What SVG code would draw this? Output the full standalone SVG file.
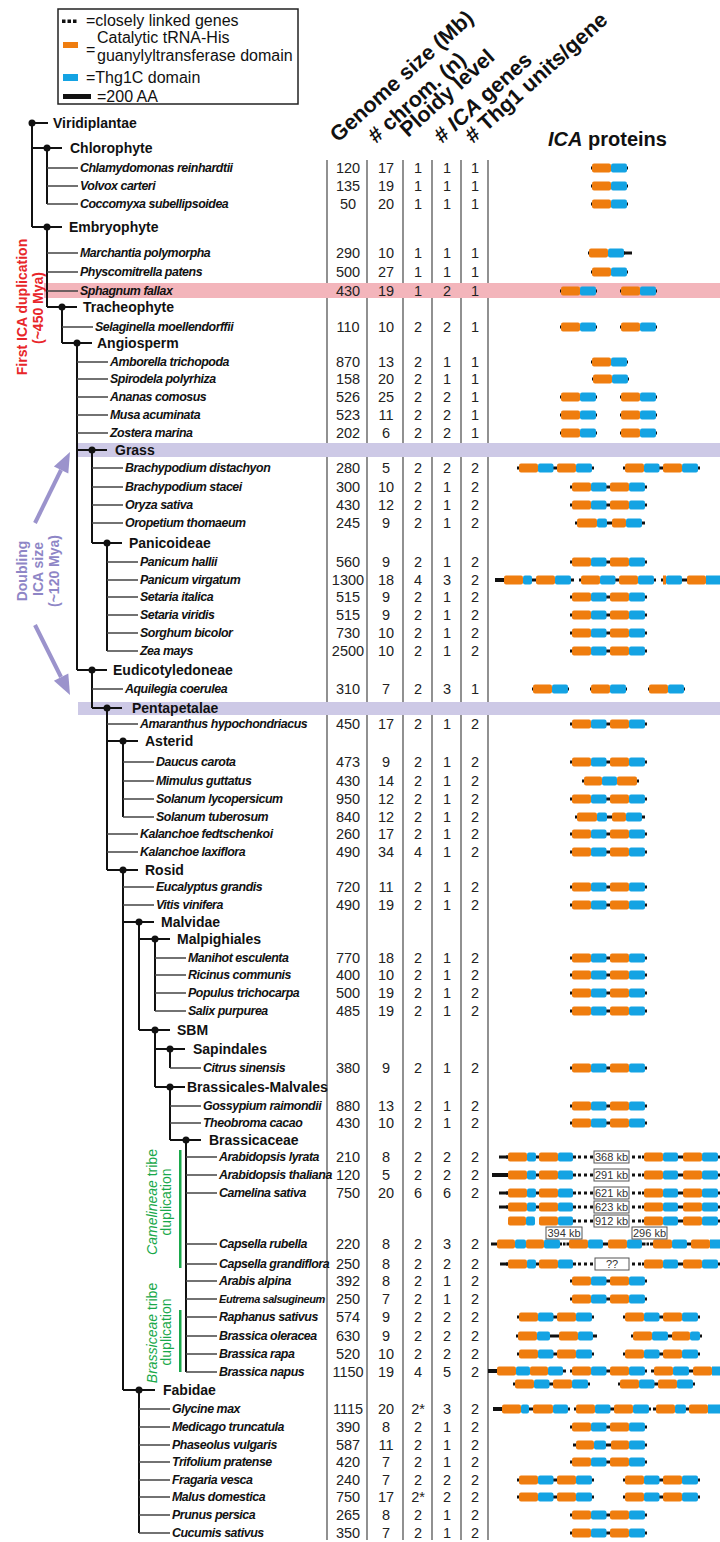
<svg xmlns="http://www.w3.org/2000/svg" width="720" height="1542" viewBox="0 0 720 1542">
<style>
.cl{font-family:'Liberation Sans',Arial,sans-serif;font-weight:bold;font-size:14px;fill:#111}
.sp{font-family:'Liberation Sans',Arial,sans-serif;font-weight:bold;font-style:italic;font-size:12.4px;letter-spacing:-0.45px;fill:#111}
.n{font-family:'Liberation Sans',Arial,sans-serif;font-size:14.5px;fill:#222;text-anchor:middle}
.hd{font-family:'Liberation Sans',Arial,sans-serif;font-weight:bold;font-size:21.5px;fill:#111}
.hp{font-family:'Liberation Sans',Arial,sans-serif;font-weight:bold;font-size:20px;fill:#111}
.lg{font-family:'Liberation Sans',Arial,sans-serif;font-size:16px;fill:#111}
.tr{stroke:#111;stroke-width:2;fill:none}
.lf{stroke:#444;stroke-width:1.3;fill:none}
.sep{stroke:#555;stroke-width:1.3}
.o{fill:#EF7D0F}
.b{fill:#14A3E3}
.k{fill:#111}
.box{fill:#fff;stroke:#555;stroke-width:1}
.kb{font-family:'Liberation Sans',Arial,sans-serif;font-size:11px;fill:#333;text-anchor:middle}
.side{font-family:'Liberation Sans',Arial,sans-serif;font-weight:bold;font-size:14px;text-anchor:middle}
.grn{font-family:'Liberation Sans',Arial,sans-serif;font-size:14px;fill:#19a84a;text-anchor:middle}
</style>
<defs>
<g id="g1"><rect class="k" x="0" y="-1.5" width="37" height="3"/><rect class="o" x="1" y="-4.5" width="19" height="9" rx="2"/><rect class="b" x="20" y="-4.5" width="16" height="9" rx="2"/></g>
<g id="g2"><rect class="k" x="0" y="-1.5" width="77" height="3"/><rect class="o" x="2" y="-4.5" width="19" height="9" rx="2"/><rect class="b" x="21" y="-4.5" width="15.5" height="9" rx="2"/><rect class="o" x="40" y="-4.5" width="19" height="9" rx="2"/><rect class="b" x="59" y="-4.5" width="16" height="9" rx="2"/></g>
<g id="arL"><rect class="k" x="506" y="-1.5" width="70" height="3"/><rect class="o" x="508" y="-4.5" width="19" height="9" rx="2"/><rect class="b" x="527" y="-4.5" width="9" height="9" rx="2"/><rect class="o" x="539" y="-4.5" width="19" height="9" rx="2"/><rect class="b" x="558" y="-4.5" width="15" height="9" rx="2"/></g>
<g id="arR"><rect class="k" x="578" y="-1.5" width="3" height="3"/><rect class="k" x="584" y="-1.5" width="3" height="3"/><rect class="k" x="590" y="-1.5" width="3" height="3"/><rect class="k" x="632" y="-1.5" width="3" height="3"/><rect class="k" x="638" y="-1.5" width="3" height="3"/><rect class="k" x="642" y="-1.5" width="78" height="3"/><rect class="o" x="644" y="-4.5" width="19" height="9" rx="2"/><rect class="b" x="663" y="-4.5" width="15" height="9" rx="2"/><rect class="o" x="683" y="-4.5" width="19" height="9" rx="2"/><rect class="b" x="702" y="-4.5" width="16" height="9" rx="2"/></g>
</defs>

<g id="legend">
<rect x="58" y="9" width="240" height="95" fill="#fff" stroke="#222" stroke-width="1.5"/>
<rect class="k" x="62" y="19.5" width="3.5" height="3.5"/><rect class="k" x="67.5" y="19.5" width="3.5" height="3.5"/><rect class="k" x="73" y="19.5" width="3.5" height="3.5"/>
<text class="lg" x="86" y="26">=closely linked genes</text>
<rect class="o" x="63" y="42" width="15" height="6"/>
<text class="lg" x="86" y="55">=</text>
<text class="lg" x="97" y="43">Catalytic tRNA-His</text>
<text class="lg" x="97" y="61">guanylyltransferase domain</text>
<rect class="b" x="63" y="74" width="15" height="7"/>
<text class="lg" x="86" y="83">=Thg1C domain</text>
<rect class="k" x="63" y="94" width="28" height="5"/>
<text class="lg" x="97" y="102">=200 AA</text>
</g>

<g id="headers">
<text class="hd" transform="translate(338,143) rotate(-42)">Genome size (Mb)</text>
<text class="hd" transform="translate(376,144) rotate(-42)"># chrom. (n)</text>
<text class="hd" transform="translate(408,138) rotate(-42)">Ploidy level</text>
<text class="hd" transform="translate(442,144) rotate(-42)"># <tspan font-style="italic">ICA</tspan> genes</text>
<text class="hd" transform="translate(473,144) rotate(-42)"># Thg1 units/gene</text>
<text class="hp" x="548" y="146"><tspan font-style="italic">ICA</tspan> proteins</text>
</g>

<g id="separators">
<line class="sep" x1="327" y1="160" x2="327" y2="1540"/>
<line class="sep" x1="367" y1="160" x2="367" y2="1540"/>
<line class="sep" x1="403" y1="160" x2="403" y2="1540"/>
<line class="sep" x1="432" y1="160" x2="432" y2="1540"/>
<line class="sep" x1="461" y1="160" x2="461" y2="1540"/>
<line class="sep" x1="488" y1="160" x2="488" y2="1540"/>
</g>

<g id="bands">
<rect x="44" y="283" width="676" height="15" fill="#f3b5bb"/>
<rect x="78" y="443" width="642" height="14" fill="#cdc9e6"/>
<rect x="78" y="702" width="642" height="13" fill="#cdc9e6"/>
</g>

<g id="annotations">
<text class="side" fill="#e8262a" transform="translate(27,307) rotate(-90)">First ICA duplication</text>
<text class="side" fill="#e8262a" transform="translate(43,308) rotate(-90)">(~450 Mya)</text>
<text class="side" fill="#8e86c6" transform="translate(27,571) rotate(-90)">Doubling</text>
<text class="side" fill="#8e86c6" transform="translate(43,569) rotate(-90)">ICA size</text>
<text class="side" fill="#8e86c6" transform="translate(59,571) rotate(-90)">(~120 Mya)</text>
<line x1="35" y1="523" x2="61" y2="470" stroke="#9b93cc" stroke-width="4"/>
<polygon points="70,452 68.3,473.4 53.9,466.4" fill="#9b93cc"/>
<line x1="35" y1="625" x2="61" y2="677" stroke="#9b93cc" stroke-width="4"/>
<polygon points="70,695 68.3,673.5 53.9,680.7" fill="#9b93cc"/>
<text class="grn" transform="translate(157,1202) rotate(-90)"><tspan font-style="italic">Camelineae</tspan> tribe</text>
<text class="grn" transform="translate(171,1202) rotate(-90)">duplication</text>
<rect x="179" y="1150" width="2.5" height="118" fill="#19a84a"/>
<text class="grn" transform="translate(157,1333) rotate(-90)"><tspan font-style="italic">Brassiceae</tspan> tribe</text>
<text class="grn" transform="translate(171,1332) rotate(-90)">duplication</text>
<rect x="179" y="1310" width="2.5" height="62" fill="#19a84a"/>
</g>

<g id="connectors">
<path class="tr" d="M32 123V227M32 123H48M32 148H62M47 148V204M32 227H62M47 227V307M47 307H77M62 307V343M62 343H92M77 343V670M77 450H107M92 450V543M92 543H122M107 543V651M77 670H107M92 670V708M92 708H122M107 708V870M107 741H138M123 741V817M107 870H138M123 870V1390M123 922H154M139 922V1030M139 939H170M155 939V1011M139 1030H170M155 1030V1087M155 1049H185M170 1049V1068M155 1087H185M170 1087V1140M170 1140H201M186 1140V1372M123 1390H155M139 1390V1533"/>
<path class="lf" d="M47 168h31M47 186h31M47 204h31M47 253h31M47 272h31M47 291h31M62 327h31M77 362h31M77 379h31M77 397h31M77 415h31M77 433h31M92 468h31M92 487h31M92 505h31M92 523h31M107 562h31M107 580h31M107 597h31M107 615h31M107 633h31M107 651h31M92 689h31M107 724h31M123 762h31M123 781h31M123 799h31M123 817h31M107 834h31M107 852h31M123 887h31M123 905h31M155 958h31M155 975h31M155 993h31M155 1011h31M170 1068h31M170 1106h31M170 1123h31M186 1157h31M186 1175h31M186 1193h31M186 1244h31M186 1264h31M186 1281h31M186 1299h31M186 1317h31M186 1336h31M186 1354h31M186 1372h31M139 1409h31M139 1427h31M139 1445h31M139 1462h31M139 1480h31M139 1497h31M139 1515h31M139 1533h31"/>
<g fill="#111">
<circle cx="32" cy="123" r="3.5"/><circle cx="47" cy="148" r="3.5"/><circle cx="47" cy="227" r="3.5"/><circle cx="62" cy="307" r="3.5"/><circle cx="77" cy="343" r="3.5"/><circle cx="92" cy="450" r="3.5"/><circle cx="107" cy="543" r="3.5"/><circle cx="92" cy="670" r="3.5"/><circle cx="107" cy="708" r="3.5"/><circle cx="123" cy="741" r="3.5"/><circle cx="123" cy="870" r="3.5"/><circle cx="139" cy="922" r="3.5"/><circle cx="155" cy="939" r="3.5"/><circle cx="155" cy="1030" r="3.5"/><circle cx="170" cy="1049" r="3.5"/><circle cx="170" cy="1087" r="3.5"/><circle cx="186" cy="1140" r="3.5"/><circle cx="139" cy="1390" r="3.5"/>
</g>
</g>

<g id="clades">
<text id="n-viridiplantae" class="cl" x="53" y="128">Viridiplantae</text>
<text id="n-chlorophyte" class="cl" x="70" y="153">Chlorophyte</text>
<text id="n-embryophyte" class="cl" x="69" y="232">Embryophyte</text>
<text id="n-tracheophyte" class="cl" x="83" y="312">Tracheophyte</text>
<text id="n-angiosperm" class="cl" x="97" y="348">Angiosperm</text>
<text id="n-grass" class="cl" x="115" y="455">Grass</text>
<text id="n-panicoideae" class="cl" x="129" y="548">Panicoideae</text>
<text id="n-eudicotyledoneae" class="cl" x="113" y="675">Eudicotyledoneae</text>
<text id="n-pentapetalae" class="cl" x="132" y="713">Pentapetalae</text>
<text id="n-asterid" class="cl" x="145" y="746">Asterid</text>
<text id="n-rosid" class="cl" x="145" y="875">Rosid</text>
<text id="n-malvidae" class="cl" x="161" y="927">Malvidae</text>
<text id="n-malpighiales" class="cl" x="177" y="944">Malpighiales</text>
<text id="n-sbm" class="cl" x="177" y="1035">SBM</text>
<text id="n-sapindales" class="cl" x="193" y="1054">Sapindales</text>
<text id="n-brassicales" class="cl" x="187" y="1092">Brassicales-Malvales</text>
<text id="n-brassicaceae" class="cl" x="209" y="1145">Brassicaceae</text>
<text id="n-fabidae" class="cl" x="163" y="1395">Fabidae</text>
</g>

<g id="r-chlamydomonas" transform="translate(0,168)"><text class="sp" x="80" y="4">Chlamydomonas reinhardtii</text><text class="n" y="5"><tspan x="348">120</tspan><tspan x="386">17</tspan><tspan x="418">1</tspan><tspan x="447">1</tspan><tspan x="475">1</tspan></text><use href="#g1" x="591"/></g>
<g id="r-volvox" transform="translate(0,186)"><text class="sp" x="80" y="4">Volvox carteri</text><text class="n" y="5"><tspan x="348">135</tspan><tspan x="386">19</tspan><tspan x="418">1</tspan><tspan x="447">1</tspan><tspan x="475">1</tspan></text><use href="#g1" x="591"/></g>
<g id="r-coccomyxa" transform="translate(0,204)"><text class="sp" x="80" y="4">Coccomyxa subellipsoidea</text><text class="n" y="5"><tspan x="348">50</tspan><tspan x="386">20</tspan><tspan x="418">1</tspan><tspan x="447">1</tspan><tspan x="475">1</tspan></text><use href="#g1" x="591"/></g>
<g id="r-marchantia" transform="translate(0,253)"><text class="sp" x="80" y="4">Marchantia polymorpha</text><text class="n" y="5"><tspan x="348">290</tspan><tspan x="386">10</tspan><tspan x="418">1</tspan><tspan x="447">1</tspan><tspan x="475">1</tspan></text><use href="#g1" x="588"/><rect class="k" x="624" y="-1.5" width="8" height="3"/></g>
<g id="r-physcomitrella" transform="translate(0,272)"><text class="sp" x="80" y="4">Physcomitrella patens</text><text class="n" y="5"><tspan x="348">500</tspan><tspan x="386">27</tspan><tspan x="418">1</tspan><tspan x="447">1</tspan><tspan x="475">1</tspan></text><use href="#g1" x="591"/></g>
<g id="r-sphagnum" transform="translate(0,291)"><text class="sp" x="80" y="4">Sphagnum fallax</text><text class="n" y="5"><tspan x="348">430</tspan><tspan x="386">19</tspan><tspan x="418">1</tspan><tspan x="447">2</tspan><tspan x="475">1</tspan></text><use href="#g1" x="560"/><use href="#g1" x="620"/></g>
<g id="r-selaginella" transform="translate(0,327)"><text class="sp" x="95" y="4">Selaginella moellendorffii</text><text class="n" y="5"><tspan x="348">110</tspan><tspan x="386">10</tspan><tspan x="418">2</tspan><tspan x="447">2</tspan><tspan x="475">1</tspan></text><use href="#g1" x="560"/><use href="#g1" x="620"/></g>
<g id="r-amborella" transform="translate(0,362)"><text class="sp" x="110" y="4">Amborella trichopoda</text><text class="n" y="5"><tspan x="348">870</tspan><tspan x="386">13</tspan><tspan x="418">2</tspan><tspan x="447">1</tspan><tspan x="475">1</tspan></text><use href="#g1" x="591"/></g>
<g id="r-spirodela" transform="translate(0,379)"><text class="sp" x="110" y="4">Spirodela polyrhiza</text><text class="n" y="5"><tspan x="348">158</tspan><tspan x="386">20</tspan><tspan x="418">2</tspan><tspan x="447">1</tspan><tspan x="475">1</tspan></text><use href="#g1" x="592"/></g>
<g id="r-ananas" transform="translate(0,397)"><text class="sp" x="110" y="4">Ananas comosus</text><text class="n" y="5"><tspan x="348">526</tspan><tspan x="386">25</tspan><tspan x="418">2</tspan><tspan x="447">2</tspan><tspan x="475">1</tspan></text><use href="#g1" x="560"/><use href="#g1" x="620"/></g>
<g id="r-musa" transform="translate(0,415)"><text class="sp" x="110" y="4">Musa acuminata</text><text class="n" y="5"><tspan x="348">523</tspan><tspan x="386">11</tspan><tspan x="418">2</tspan><tspan x="447">2</tspan><tspan x="475">1</tspan></text><use href="#g1" x="560"/><use href="#g1" x="620"/></g>
<g id="r-zostera" transform="translate(0,433)"><text class="sp" x="110" y="4">Zostera marina</text><text class="n" y="5"><tspan x="348">202</tspan><tspan x="386">6</tspan><tspan x="418">2</tspan><tspan x="447">2</tspan><tspan x="475">1</tspan></text><use href="#g1" x="560"/><use href="#g1" x="620"/></g>
<g id="r-bdistachyon" transform="translate(0,468)"><text class="sp" x="125" y="4">Brachypodium distachyon</text><text class="n" y="5"><tspan x="348">280</tspan><tspan x="386">5</tspan><tspan x="418">2</tspan><tspan x="447">2</tspan><tspan x="475">2</tspan></text><use href="#g2" x="517"/><use href="#g2" x="623"/></g>
<g id="r-bstacei" transform="translate(0,487)"><text class="sp" x="125" y="4">Brachypodium stacei</text><text class="n" y="5"><tspan x="348">300</tspan><tspan x="386">10</tspan><tspan x="418">2</tspan><tspan x="447">1</tspan><tspan x="475">2</tspan></text><use href="#g2" x="570"/></g>
<g id="r-oryza" transform="translate(0,505)"><text class="sp" x="125" y="4">Oryza sativa</text><text class="n" y="5"><tspan x="348">430</tspan><tspan x="386">12</tspan><tspan x="418">2</tspan><tspan x="447">1</tspan><tspan x="475">2</tspan></text><use href="#g2" x="570"/></g>
<g id="r-oropetium" transform="translate(0,523)"><text class="sp" x="125" y="4">Oropetium thomaeum</text><text class="n" y="5"><tspan x="348">245</tspan><tspan x="386">9</tspan><tspan x="418">2</tspan><tspan x="447">1</tspan><tspan x="475">2</tspan></text><rect class="k" x="575" y="-1.5" width="70" height="3"/><rect class="o" x="577" y="-4.5" width="20" height="9" rx="2"/><rect class="b" x="597" y="-4.5" width="10" height="9" rx="2"/><rect class="o" x="612" y="-4.5" width="14" height="9" rx="2"/><rect class="b" x="626" y="-4.5" width="16" height="9" rx="2"/></g>
<g id="r-phallii" transform="translate(0,562)"><text class="sp" x="140" y="4">Panicum hallii</text><text class="n" y="5"><tspan x="348">560</tspan><tspan x="386">9</tspan><tspan x="418">2</tspan><tspan x="447">1</tspan><tspan x="475">2</tspan></text><use href="#g2" x="570"/></g>
<g id="r-pvirgatum" transform="translate(0,580)"><text class="sp" x="140" y="4">Panicum virgatum</text><text class="n" y="5"><tspan x="348">1300</tspan><tspan x="386">18</tspan><tspan x="418">4</tspan><tspan x="447">3</tspan><tspan x="475">2</tspan></text><rect class="k" x="495" y="-1.5" width="79" height="3"/><rect class="k" x="495" y="-2" width="9" height="4"/><rect class="o" x="504" y="-4.5" width="19" height="9" rx="2"/><rect class="b" x="523" y="-4.5" width="9" height="9" rx="2"/><rect class="o" x="536" y="-4.5" width="19" height="9" rx="2"/><rect class="b" x="555" y="-4.5" width="16" height="9" rx="2"/><use href="#g2" x="579"/><rect class="k" x="661" y="-1.5" width="59" height="3"/><rect class="o" x="663" y="-4.5" width="3" height="9"/><rect class="b" x="666" y="-4.5" width="16" height="9" rx="2"/><rect class="o" x="687" y="-4.5" width="19" height="9" rx="2"/><rect class="b" x="706" y="-4.5" width="14" height="9"/></g>
<g id="r-sitalica" transform="translate(0,597)"><text class="sp" x="140" y="4">Setaria italica</text><text class="n" y="5"><tspan x="348">515</tspan><tspan x="386">9</tspan><tspan x="418">2</tspan><tspan x="447">1</tspan><tspan x="475">2</tspan></text><use href="#g2" x="570"/></g>
<g id="r-sviridis" transform="translate(0,615)"><text class="sp" x="140" y="4">Setaria viridis</text><text class="n" y="5"><tspan x="348">515</tspan><tspan x="386">9</tspan><tspan x="418">2</tspan><tspan x="447">1</tspan><tspan x="475">2</tspan></text><use href="#g2" x="570"/></g>
<g id="r-sorghum" transform="translate(0,633)"><text class="sp" x="140" y="4">Sorghum bicolor</text><text class="n" y="5"><tspan x="348">730</tspan><tspan x="386">10</tspan><tspan x="418">2</tspan><tspan x="447">1</tspan><tspan x="475">2</tspan></text><use href="#g2" x="570"/></g>
<g id="r-zea" transform="translate(0,651)"><text class="sp" x="140" y="4">Zea mays</text><text class="n" y="5"><tspan x="348">2500</tspan><tspan x="386">10</tspan><tspan x="418">2</tspan><tspan x="447">1</tspan><tspan x="475">2</tspan></text><use href="#g2" x="570"/></g>
<g id="r-aquilegia" transform="translate(0,689)"><text class="sp" x="125" y="4">Aquilegia coerulea</text><text class="n" y="5"><tspan x="348">310</tspan><tspan x="386">7</tspan><tspan x="418">2</tspan><tspan x="447">3</tspan><tspan x="475">1</tspan></text><use href="#g1" x="532"/><use href="#g1" x="590"/><use href="#g1" x="648"/></g>
<g id="r-amaranthus" transform="translate(0,724)"><text class="sp" x="140" y="4">Amaranthus hypochondriacus</text><text class="n" y="5"><tspan x="348">450</tspan><tspan x="386">17</tspan><tspan x="418">2</tspan><tspan x="447">1</tspan><tspan x="475">2</tspan></text><use href="#g2" x="570"/></g>
<g id="r-daucus" transform="translate(0,762)"><text class="sp" x="156" y="4">Daucus carota</text><text class="n" y="5"><tspan x="348">473</tspan><tspan x="386">9</tspan><tspan x="418">2</tspan><tspan x="447">1</tspan><tspan x="475">2</tspan></text><use href="#g2" x="570"/></g>
<g id="r-mimulus" transform="translate(0,781)"><text class="sp" x="156" y="4">Mimulus guttatus</text><text class="n" y="5"><tspan x="348">430</tspan><tspan x="386">14</tspan><tspan x="418">2</tspan><tspan x="447">1</tspan><tspan x="475">2</tspan></text><rect class="k" x="582" y="-1.5" width="57" height="3"/><rect class="o" x="584" y="-4.5" width="18" height="9" rx="2"/><rect class="b" x="602" y="-4.5" width="15" height="9" rx="2"/><rect class="o" x="617" y="-4.5" width="20" height="9" rx="2"/></g>
<g id="r-slycopersicum" transform="translate(0,799)"><text class="sp" x="156" y="4">Solanum lycopersicum</text><text class="n" y="5"><tspan x="348">950</tspan><tspan x="386">12</tspan><tspan x="418">2</tspan><tspan x="447">1</tspan><tspan x="475">2</tspan></text><use href="#g2" x="570"/></g>
<g id="r-stuberosum" transform="translate(0,817)"><text class="sp" x="156" y="4">Solanum tuberosum</text><text class="n" y="5"><tspan x="348">840</tspan><tspan x="386">12</tspan><tspan x="418">2</tspan><tspan x="447">1</tspan><tspan x="475">2</tspan></text><rect class="k" x="575" y="-1.5" width="70" height="3"/><rect class="o" x="577" y="-4.5" width="20" height="9" rx="2"/><rect class="b" x="597" y="-4.5" width="10" height="9" rx="2"/><rect class="o" x="612" y="-4.5" width="14" height="9" rx="2"/><rect class="b" x="626" y="-4.5" width="16" height="9" rx="2"/></g>
<g id="r-kfedtschenkoi" transform="translate(0,834)"><text class="sp" x="140" y="4">Kalanchoe fedtschenkoi</text><text class="n" y="5"><tspan x="348">260</tspan><tspan x="386">17</tspan><tspan x="418">2</tspan><tspan x="447">1</tspan><tspan x="475">2</tspan></text><use href="#g2" x="570"/></g>
<g id="r-klaxiflora" transform="translate(0,852)"><text class="sp" x="140" y="4">Kalanchoe laxiflora</text><text class="n" y="5"><tspan x="348">490</tspan><tspan x="386">34</tspan><tspan x="418">4</tspan><tspan x="447">1</tspan><tspan x="475">2</tspan></text><use href="#g2" x="570"/></g>
<g id="r-eucalyptus" transform="translate(0,887)"><text class="sp" x="156" y="4">Eucalyptus grandis</text><text class="n" y="5"><tspan x="348">720</tspan><tspan x="386">11</tspan><tspan x="418">2</tspan><tspan x="447">1</tspan><tspan x="475">2</tspan></text><use href="#g2" x="570"/></g>
<g id="r-vitis" transform="translate(0,905)"><text class="sp" x="156" y="4">Vitis vinifera</text><text class="n" y="5"><tspan x="348">490</tspan><tspan x="386">19</tspan><tspan x="418">2</tspan><tspan x="447">1</tspan><tspan x="475">2</tspan></text><use href="#g2" x="570"/></g>
<g id="r-manihot" transform="translate(0,958)"><text class="sp" x="188" y="4">Manihot esculenta</text><text class="n" y="5"><tspan x="348">770</tspan><tspan x="386">18</tspan><tspan x="418">2</tspan><tspan x="447">1</tspan><tspan x="475">2</tspan></text><use href="#g2" x="570"/></g>
<g id="r-ricinus" transform="translate(0,975)"><text class="sp" x="188" y="4">Ricinus communis</text><text class="n" y="5"><tspan x="348">400</tspan><tspan x="386">10</tspan><tspan x="418">2</tspan><tspan x="447">1</tspan><tspan x="475">2</tspan></text><use href="#g2" x="570"/></g>
<g id="r-populus" transform="translate(0,993)"><text class="sp" x="188" y="4">Populus trichocarpa</text><text class="n" y="5"><tspan x="348">500</tspan><tspan x="386">19</tspan><tspan x="418">2</tspan><tspan x="447">1</tspan><tspan x="475">2</tspan></text><use href="#g2" x="570"/></g>
<g id="r-salix" transform="translate(0,1011)"><text class="sp" x="188" y="4">Salix purpurea</text><text class="n" y="5"><tspan x="348">485</tspan><tspan x="386">19</tspan><tspan x="418">2</tspan><tspan x="447">1</tspan><tspan x="475">2</tspan></text><use href="#g2" x="570"/></g>
<g id="r-citrus" transform="translate(0,1068)"><text class="sp" x="203" y="4">Citrus sinensis</text><text class="n" y="5"><tspan x="348">380</tspan><tspan x="386">9</tspan><tspan x="418">2</tspan><tspan x="447">1</tspan><tspan x="475">2</tspan></text><use href="#g2" x="570"/></g>
<g id="r-gossypium" transform="translate(0,1106)"><text class="sp" x="203" y="4">Gossypium raimondii</text><text class="n" y="5"><tspan x="348">880</tspan><tspan x="386">13</tspan><tspan x="418">2</tspan><tspan x="447">1</tspan><tspan x="475">2</tspan></text><use href="#g2" x="570"/></g>
<g id="r-theobroma" transform="translate(0,1123)"><text class="sp" x="203" y="4">Theobroma cacao</text><text class="n" y="5"><tspan x="348">430</tspan><tspan x="386">10</tspan><tspan x="418">2</tspan><tspan x="447">1</tspan><tspan x="475">2</tspan></text><use href="#g2" x="570"/></g>
<g id="r-alyrata" transform="translate(0,1157)"><text class="sp" x="219" y="4">Arabidopsis lyrata</text><text class="n" y="5"><tspan x="348">210</tspan><tspan x="386">8</tspan><tspan x="418">2</tspan><tspan x="447">2</tspan><tspan x="475">2</tspan></text><rect class="k" x="499" y="-1.5" width="9" height="3"/><use href="#arL"/><use href="#arR"/><rect class="box" x="594" y="-6" width="35" height="12"/><text class="kb" x="611.5" y="4">368 kb</text></g>
<g id="r-athaliana" transform="translate(0,1175)"><text class="sp" x="219" y="4">Arabidopsis thaliana</text><text class="n" y="5"><tspan x="348">120</tspan><tspan x="386">5</tspan><tspan x="418">2</tspan><tspan x="447">2</tspan><tspan x="475">2</tspan></text><rect class="k" x="492" y="-2" width="16" height="4"/><use href="#arL"/><use href="#arR"/><rect class="box" x="594" y="-6" width="35" height="12"/><text class="kb" x="611.5" y="4">291 kb</text></g>
<g id="r-camelina" transform="translate(0,1193)"><text class="sp" x="219" y="4">Camelina sativa</text><text class="n" y="5"><tspan x="348">750</tspan><tspan x="386">20</tspan><tspan x="418">6</tspan><tspan x="447">6</tspan><tspan x="475">2</tspan></text><rect class="k" x="499" y="-1.5" width="9" height="3"/><use href="#arL"/><use href="#arR"/><rect class="box" x="594" y="-6" width="35" height="12"/><text class="kb" x="611.5" y="4">621 kb</text>
<g transform="translate(0,14)"><rect class="k" x="499" y="-1.5" width="9" height="3"/><use href="#arL"/><use href="#arR"/><rect class="box" x="594" y="-6" width="35" height="12"/><text class="kb" x="611.5" y="4">623 kb</text></g>
<g transform="translate(0,28)"><rect class="o" x="508" y="-4.5" width="18" height="9" rx="2"/><rect class="b" x="526" y="-4.5" width="9" height="9" rx="2"/><rect class="o" x="539" y="-4.5" width="19" height="9" rx="2"/><rect class="b" x="558" y="-4.5" width="15" height="9" rx="2"/><rect class="k" x="573" y="-1.5" width="3" height="3"/><use href="#arR"/><rect class="box" x="594" y="-6" width="35" height="12"/><text class="kb" x="611.5" y="4">912 kb</text></g></g>
<g id="r-crubella" transform="translate(0,1244)"><text class="sp" x="219" y="4">Capsella rubella</text><text class="n" y="5"><tspan x="348">220</tspan><tspan x="386">8</tspan><tspan x="418">2</tspan><tspan x="447">3</tspan><tspan x="475">2</tspan></text><rect class="k" x="491" y="-1.5" width="71" height="3"/><rect class="o" x="497" y="-4.5" width="18" height="9" rx="2"/><rect class="b" x="515" y="-4.5" width="11" height="9" rx="2"/><rect class="o" x="526" y="-4.5" width="18" height="9" rx="2"/><rect class="b" x="544" y="-4.5" width="16" height="9" rx="2"/><rect class="k" x="563" y="-1.5" width="2.5" height="3"/><rect class="k" x="566.5" y="-1.5" width="79" height="3"/><rect class="o" x="569" y="-4.5" width="19" height="9" rx="2"/><rect class="b" x="588" y="-4.5" width="15" height="9" rx="2"/><rect class="o" x="608" y="-4.5" width="19" height="9" rx="2"/><rect class="b" x="627" y="-4.5" width="15" height="9" rx="2"/><rect class="k" x="646.5" y="-1.5" width="2.5" height="3"/><rect class="k" x="650" y="-1.5" width="70" height="3"/><rect class="o" x="653" y="-4.5" width="19" height="9" rx="2"/><rect class="b" x="672" y="-4.5" width="15" height="9" rx="2"/><rect class="o" x="691" y="-4.5" width="19" height="9" rx="2"/><rect class="b" x="710" y="-4.5" width="10" height="9"/><rect class="box" x="546" y="-17" width="36" height="12"/><text class="kb" x="564" y="-7">394 kb</text><rect class="box" x="632" y="-17" width="35" height="12"/><text class="kb" x="649.5" y="-7">296 kb</text></g>
<g id="r-cgrandiflora" transform="translate(0,1264)"><text class="sp" x="219" y="4">Capsella grandiflora</text><text class="n" y="5"><tspan x="348">250</tspan><tspan x="386">8</tspan><tspan x="418">2</tspan><tspan x="447">2</tspan><tspan x="475">2</tspan></text><rect class="k" x="500" y="-1.5" width="8" height="3"/><use href="#arL"/><use href="#arR"/><rect class="box" x="595" y="-6" width="34" height="12"/><text class="kb" x="612" y="4">??</text></g>
<g id="r-arabis" transform="translate(0,1281)"><text class="sp" x="219" y="4">Arabis alpina</text><text class="n" y="5"><tspan x="348">392</tspan><tspan x="386">8</tspan><tspan x="418">2</tspan><tspan x="447">1</tspan><tspan x="475">2</tspan></text><use href="#g2" x="570"/></g>
<g id="r-eutrema" transform="translate(0,1299)"><text class="sp" x="219" y="4" style="font-size:11px">Eutrema salsugineum</text><text class="n" y="5"><tspan x="348">250</tspan><tspan x="386">7</tspan><tspan x="418">2</tspan><tspan x="447">1</tspan><tspan x="475">2</tspan></text><use href="#g2" x="570"/></g>
<g id="r-raphanus" transform="translate(0,1317)"><text class="sp" x="219" y="4">Raphanus sativus</text><text class="n" y="5"><tspan x="348">574</tspan><tspan x="386">9</tspan><tspan x="418">2</tspan><tspan x="447">2</tspan><tspan x="475">2</tspan></text><use href="#g2" x="517"/><use href="#g2" x="623"/></g>
<g id="r-boleracea" transform="translate(0,1336)"><text class="sp" x="219" y="4">Brassica oleracea</text><text class="n" y="5"><tspan x="348">630</tspan><tspan x="386">9</tspan><tspan x="418">2</tspan><tspan x="447">2</tspan><tspan x="475">2</tspan></text><rect class="k" x="516" y="-1.5" width="81" height="3"/><rect class="o" x="518" y="-4.5" width="19" height="9" rx="2"/><rect class="b" x="537" y="-4.5" width="13" height="9" rx="2"/><rect class="o" x="559" y="-4.5" width="19" height="9" rx="2"/><rect class="b" x="578" y="-4.5" width="15" height="9" rx="2"/><rect class="k" x="631" y="-1.5" width="71" height="3"/><rect class="o" x="633" y="-4.5" width="19" height="9" rx="2"/><rect class="b" x="652" y="-4.5" width="16" height="9" rx="2"/><rect class="o" x="672" y="-4.5" width="18" height="9" rx="2"/><rect class="b" x="690" y="-4.5" width="10" height="9" rx="2"/></g>
<g id="r-brapa" transform="translate(0,1354)"><text class="sp" x="219" y="4">Brassica rapa</text><text class="n" y="5"><tspan x="348">520</tspan><tspan x="386">10</tspan><tspan x="418">2</tspan><tspan x="447">2</tspan><tspan x="475">2</tspan></text><use href="#g2" x="517"/><use href="#g2" x="623"/></g>
<g id="r-bnapus" transform="translate(0,1371)"><text class="sp" x="219" y="5">Brassica napus</text><text class="n" y="6"><tspan x="348">1150</tspan><tspan x="386">19</tspan><tspan x="418">4</tspan><tspan x="447">5</tspan><tspan x="475">2</tspan></text><rect class="k" x="488" y="-1.5" width="78" height="3"/><rect class="k" x="488" y="-2" width="9" height="4"/><rect class="o" x="497" y="-4.5" width="19" height="9" rx="2"/><rect class="b" x="516" y="-4.5" width="14" height="9" rx="2"/><rect class="o" x="530" y="-4.5" width="18" height="9" rx="2"/><rect class="b" x="548" y="-4.5" width="15" height="9" rx="2"/><use href="#g2" x="570"/><rect class="k" x="651" y="-1.5" width="69" height="3"/><rect class="o" x="654" y="-4.5" width="19" height="9" rx="2"/><rect class="b" x="673" y="-4.5" width="16" height="9" rx="2"/><rect class="o" x="693" y="-4.5" width="19" height="9" rx="2"/><rect class="b" x="712" y="-4.5" width="8" height="9"/><use href="#g2" x="513" y="13"/><use href="#g2" x="618" y="13"/></g>
<g id="r-glycine" transform="translate(0,1409)"><text class="sp" x="172" y="4">Glycine max</text><text class="n" y="5"><tspan x="348">1115</tspan><tspan x="386">20</tspan><tspan x="418">2*</tspan><tspan x="447">3</tspan><tspan x="475">2</tspan></text><rect class="k" x="493" y="-1.5" width="77" height="3"/><rect class="k" x="493" y="-2" width="9" height="4"/><rect class="o" x="502" y="-4.5" width="19" height="9" rx="2"/><rect class="b" x="521" y="-4.5" width="8" height="9" rx="2"/><rect class="o" x="533" y="-4.5" width="20" height="9" rx="2"/><rect class="b" x="553" y="-4.5" width="15" height="9" rx="2"/><use href="#g2" x="574"/><rect class="k" x="653" y="-1.5" width="67" height="3"/><rect class="o" x="656" y="-4.5" width="19" height="9" rx="2"/><rect class="b" x="675" y="-4.5" width="11" height="9" rx="2"/><rect class="o" x="689" y="-4.5" width="19" height="9" rx="2"/><rect class="b" x="708" y="-4.5" width="12" height="9"/></g>
<g id="r-medicago" transform="translate(0,1427)"><text class="sp" x="172" y="4">Medicago truncatula</text><text class="n" y="5"><tspan x="348">390</tspan><tspan x="386">8</tspan><tspan x="418">2</tspan><tspan x="447">1</tspan><tspan x="475">2</tspan></text><use href="#g2" x="570"/></g>
<g id="r-phaseolus" transform="translate(0,1445)"><text class="sp" x="172" y="4">Phaseolus vulgaris</text><text class="n" y="5"><tspan x="348">587</tspan><tspan x="386">11</tspan><tspan x="418">2</tspan><tspan x="447">1</tspan><tspan x="475">2</tspan></text><rect class="k" x="573" y="-1.5" width="74" height="3"/><rect class="o" x="576" y="-4.5" width="18" height="9" rx="2"/><rect class="b" x="594" y="-4.5" width="12" height="9" rx="2"/><rect class="o" x="611" y="-4.5" width="18" height="9" rx="2"/><rect class="b" x="629" y="-4.5" width="16" height="9" rx="2"/></g>
<g id="r-trifolium" transform="translate(0,1462)"><text class="sp" x="172" y="4">Trifolium pratense</text><text class="n" y="5"><tspan x="348">420</tspan><tspan x="386">7</tspan><tspan x="418">2</tspan><tspan x="447">1</tspan><tspan x="475">2</tspan></text><use href="#g2" x="570"/></g>
<g id="r-fragaria" transform="translate(0,1480)"><text class="sp" x="172" y="4">Fragaria vesca</text><text class="n" y="5"><tspan x="348">240</tspan><tspan x="386">7</tspan><tspan x="418">2</tspan><tspan x="447">2</tspan><tspan x="475">2</tspan></text><use href="#g2" x="517"/><use href="#g2" x="623"/></g>
<g id="r-malus" transform="translate(0,1497)"><text class="sp" x="172" y="4">Malus domestica</text><text class="n" y="5"><tspan x="348">750</tspan><tspan x="386">17</tspan><tspan x="418">2*</tspan><tspan x="447">2</tspan><tspan x="475">2</tspan></text><use href="#g2" x="517"/><use href="#g2" x="623"/></g>
<g id="r-prunus" transform="translate(0,1515)"><text class="sp" x="172" y="4">Prunus persica</text><text class="n" y="5"><tspan x="348">265</tspan><tspan x="386">8</tspan><tspan x="418">2</tspan><tspan x="447">1</tspan><tspan x="475">2</tspan></text><use href="#g2" x="570"/></g>
<g id="r-cucumis" transform="translate(0,1533)"><text class="sp" x="172" y="4">Cucumis sativus</text><text class="n" y="5"><tspan x="348">350</tspan><tspan x="386">7</tspan><tspan x="418">2</tspan><tspan x="447">1</tspan><tspan x="475">2</tspan></text><use href="#g2" x="570"/></g>
</svg>
